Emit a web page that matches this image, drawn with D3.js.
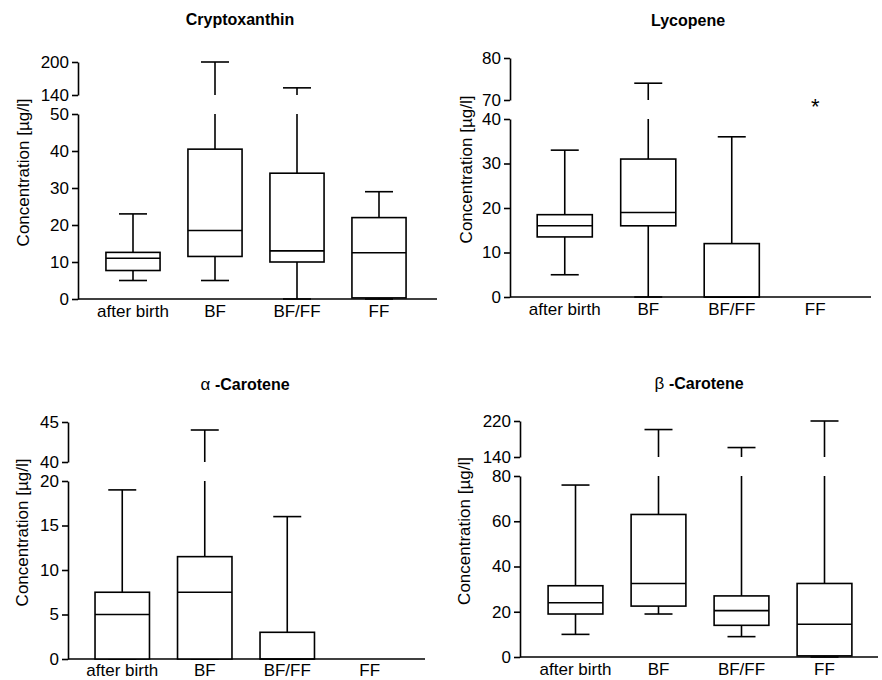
<!DOCTYPE html>
<html>
<head>
<meta charset="utf-8">
<script src="https://cdn.jsdelivr.net/npm/d3@7"></script>
<style>
  body { margin: 0; background: #fff; }
  svg { font-family: "Liberation Sans", Arial, sans-serif; }
</style>
</head>
<body>
<svg id="chart" width="882" height="680"></svg>
<script>
const categories = ['after birth', 'BF', 'BF/FF', 'FF'];

// five-number summaries per group: [min, q1, median, q3, max]
const cryptoxanthin = [[5, 7.7, 11, 12.6, 23], [5, 11.5, 18.5, 40.5, 200], [0, 10, 13, 34, 153], [0, 0.3, 12.5, 22, 29]];
const lycopene = [[5, 13.5, 16, 18.5, 33], [0, 16, 19, 31, 74], [0, 0, 0, 12, 36], [0, 0, 0, 0, 0]];
const alphaCarotene = [[0, 0, 5, 7.5, 19], [0, 0, 7.5, 11.5, 44], [0, 0, 0, 3, 16], [0, 0, 0, 0, 0]];
const betaCarotene = [[10, 19, 24, 31.5, 76], [19, 22.5, 32.5, 63, 201], [9, 14, 20.5, 27, 161], [0, 0.5, 14.5, 32.5, 220]];

// broken y-axis ticks: lower segment and upper segment
const cryptoLowTicks = [0, 10, 20, 30, 40, 50];
const cryptoHighTicks = [140, 200];
const lycoLowTicks = [0, 10, 20, 30, 40];
const lycoHighTicks = [70, 80];
const alphaLowTicks = [0, 5, 10, 15, 20];
const alphaHighTicks = [40, 45];
const betaLowTicks = [0, 20, 40, 60, 80];
const betaHighTicks = [140, 220];

const panels = [
  { greek: '', title: 'Cryptoxanthin', data: cryptoxanthin, low: cryptoLowTicks, high: cryptoHighTicks,
    left: 78, bottom: 299, lowTop: 114, highBottom: 95, highTop: 62, right: 437, bandX: [92, 420], titleX: 240, titleY: 25, labelX: 29 },
  { greek: '', title: 'Lycopene', data: lycopene, low: lycoLowTicks, high: lycoHighTicks,
    left: 510, bottom: 297, lowTop: 119, highBottom: 100, highTop: 58, right: 871, bandX: [523, 857], titleX: 688, titleY: 26, labelX: 472,
    star: { cat: 'FF', value: 70 } },
  { greek: 'α', title: '-Carotene', data: alphaCarotene, low: alphaLowTicks, high: alphaHighTicks,
    left: 68, bottom: 659, lowTop: 481, highBottom: 462, highTop: 422, right: 425, bandX: [81, 411], titleX: 245, titleY: 390, labelX: 28 },
  { greek: 'β', title: '-Carotene', data: betaCarotene, low: betaLowTicks, high: betaHighTicks,
    left: 520, bottom: 657, lowTop: 476, highBottom: 457, highTop: 421, right: 878, bandX: [534, 866], titleX: 699, titleY: 389, labelX: 470 },
];

const svg = d3.select('#chart');
const sw = 1.6;

panels.forEach((p) => {
  const g = svg.append('g');
  const lowMax = p.low[p.low.length - 1];
  const highMin = p.high[0];
  const yLow = d3.scaleLinear().domain([0, lowMax]).range([p.bottom, p.lowTop]);
  const yHigh = d3.scaleLinear().domain([highMin, p.high[p.high.length - 1]]).range([p.highBottom, p.highTop]);
  const x = d3.scaleBand().domain(categories).range(p.bandX);
  const boxW = x.bandwidth() * 0.66;
  const capW = 28;

  // title
  const t = g.append('text')
    .attr('x', p.titleX).attr('y', p.titleY)
    .attr('text-anchor', 'middle')
    .attr('font-size', 16);
  if (p.greek) t.append('tspan').attr('font-weight', 'normal').attr('font-size', 17).text(p.greek + ' ');
  t.append('tspan').attr('font-weight', 'bold').text(p.title);

  // y label
  g.append('text')
    .attr('transform', `translate(${p.labelX},${(p.highTop + p.bottom) / 2 - 8}) rotate(-90)`)
    .attr('text-anchor', 'middle')
    .attr('font-size', 17)
    .text('Concentration [µg/l]');

  // broken y axis: lower and upper segments
  const lowAxis = g.append('g')
    .attr('transform', `translate(${p.left},0)`)
    .call(d3.axisLeft(yLow).tickValues(p.low).tickFormat(d3.format('d')).tickSize(6).tickPadding(3).tickSizeOuter(0));
  const highAxis = g.append('g')
    .attr('transform', `translate(${p.left},0)`)
    .call(d3.axisLeft(yHigh).tickValues(p.high).tickFormat(d3.format('d')).tickSize(6).tickPadding(3).tickSizeOuter(0));
  [lowAxis, highAxis].forEach((a) => {
    a.select('.domain').attr('stroke-width', sw);
    a.selectAll('.tick line').attr('stroke-width', sw);
    a.selectAll('.tick text').attr('font-size', 17).attr('fill', '#000')
      .attr('font-family', '"Liberation Sans", Arial, sans-serif');
  });

  // x axis line and category labels
  g.append('line')
    .attr('x1', p.left).attr('x2', p.right)
    .attr('y1', p.bottom).attr('y2', p.bottom)
    .attr('stroke', '#000').attr('stroke-width', sw);
  g.selectAll('text.cat')
    .data(categories)
    .join('text')
    .attr('class', 'cat')
    .attr('x', (c) => x(c) + x.bandwidth() / 2)
    .attr('y', Math.min(p.bottom + 18, 676))
    .attr('text-anchor', 'middle')
    .attr('font-size', 17)
    .text((c) => c);

  // boxes
  const box = g.selectAll('g.box')
    .data(p.data.map((d, i) => ({ cat: categories[i], v: d })))
    .join('g')
    .attr('class', 'box')
    .attr('stroke', '#000')
    .attr('stroke-width', sw)
    .attr('fill', 'none');

  box.each(function (d) {
    const b = d3.select(this);
    const cx = x(d.cat) + x.bandwidth() / 2;
    const [mn, q1, med, q3, mx] = d.v;
    if (mx === 0) return;
    // lower whisker
    b.append('line').attr('x1', cx).attr('x2', cx).attr('y1', yLow(q1)).attr('y2', yLow(mn));
    b.append('line').attr('x1', cx - capW / 2).attr('x2', cx + capW / 2).attr('y1', yLow(mn)).attr('y2', yLow(mn));
    // upper whisker, broken when the max lies on the upper segment
    if (mx > lowMax) {
      b.append('line').attr('x1', cx).attr('x2', cx).attr('y1', yLow(q3)).attr('y2', yLow(lowMax));
      b.append('line').attr('x1', cx).attr('x2', cx).attr('y1', yHigh(highMin)).attr('y2', yHigh(mx));
      b.append('line').attr('x1', cx - capW / 2).attr('x2', cx + capW / 2).attr('y1', yHigh(mx)).attr('y2', yHigh(mx));
    } else {
      b.append('line').attr('x1', cx).attr('x2', cx).attr('y1', yLow(q3)).attr('y2', yLow(mx));
      b.append('line').attr('x1', cx - capW / 2).attr('x2', cx + capW / 2).attr('y1', yLow(mx)).attr('y2', yLow(mx));
    }
    // box and median
    b.append('rect')
      .attr('x', cx - boxW / 2).attr('width', boxW)
      .attr('y', yLow(q3)).attr('height', yLow(q1) - yLow(q3))
      .attr('fill', '#fff');
    b.append('line').attr('x1', cx - boxW / 2).attr('x2', cx + boxW / 2).attr('y1', yLow(med)).attr('y2', yLow(med));
  });

  if (p.star) {
    g.append('text')
      .attr('x', x(p.star.cat) + x.bandwidth() / 2)
      .attr('y', yHigh(p.star.value) + 14)
      .attr('text-anchor', 'middle')
      .attr('font-size', 22)
      .text('*');
  }
});
</script>
</body>
</html>
